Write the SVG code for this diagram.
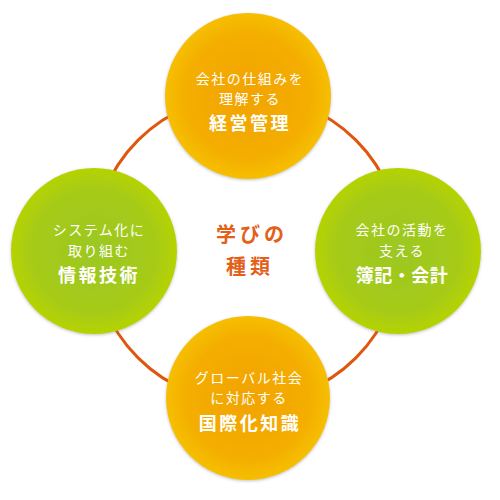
<svg xmlns="http://www.w3.org/2000/svg" width="500" height="500" viewBox="0 0 500 500">
<defs>
<radialGradient id="gOrange" cx="50%" cy="50%" r="50%">
<stop offset="0" stop-color="#f2a300"/>
<stop offset="0.75" stop-color="#f4ae00"/>
<stop offset="1" stop-color="#f6bf00"/>
</radialGradient>
<radialGradient id="gGreen" cx="50%" cy="50%" r="50%">
<stop offset="0" stop-color="#9cc722"/>
<stop offset="0.75" stop-color="#a6cb18"/>
<stop offset="1" stop-color="#b6d300"/>
</radialGradient>
<filter id="sh" x="-20%" y="-20%" width="140%" height="140%">
<feGaussianBlur in="SourceAlpha" stdDeviation="1.8"/>
<feOffset dx="0" dy="0.5" result="b"/>
<feFlood flood-color="#777" flood-opacity="0.45"/>
<feComposite in2="b" operator="in"/>
<feMerge><feMergeNode/><feMergeNode in="SourceGraphic"/></feMerge>
</filter>
</defs>
<style>
text{font-family:"Noto Sans CJK JP","Noto Sans CJK SC",sans-serif;text-anchor:middle;fill:#fff}
.s{font-size:14px;letter-spacing:1.5px}
.b{font-size:18px;font-weight:bold;letter-spacing:2.5px}
.c{font-size:20px;font-weight:bold;letter-spacing:4px;fill:#e2601a}
</style>
<g id="connectors">
<circle cx="247" cy="249" r="154" fill="none" stroke="#e0560f" stroke-width="3"/>
</g>
<g id="center">
<text class="c" x="252" y="242">学びの</text>
<text class="c" x="250" y="274">種類</text>
</g>
<g id="top">
<circle cx="248" cy="96" r="83" fill="url(#gOrange)" filter="url(#sh)"/>
<text class="s" x="250" y="84">会社の仕組みを</text>
<text class="s" x="250" y="104">理解する</text>
<text class="b" x="250" y="130">経営管理</text>
</g>
<g id="right">
<circle cx="398" cy="251" r="83" fill="url(#gGreen)" filter="url(#sh)"/>
<text class="s" x="402" y="235">会社の活動を</text>
<text class="s" x="402" y="256">支える</text>
<text class="b" x="402" y="282" style="letter-spacing:0.5px">簿記・会計</text>
</g>
<g id="left">
<circle cx="94" cy="251" r="83" fill="url(#gGreen)" filter="url(#sh)"/>
<text class="s" x="99" y="235">システム化に</text>
<text class="s" x="99" y="256">取り組む</text>
<text class="b" x="99" y="282">情報技術</text>
</g>
<g id="bottom">
<circle cx="248" cy="398" r="82" fill="url(#gOrange)" filter="url(#sh)"/>
<text class="s" x="249" y="383">グローバル社会</text>
<text class="s" x="249" y="403">に対応する</text>
<text class="b" x="250" y="430">国際化知識</text>
</g>
</svg>
